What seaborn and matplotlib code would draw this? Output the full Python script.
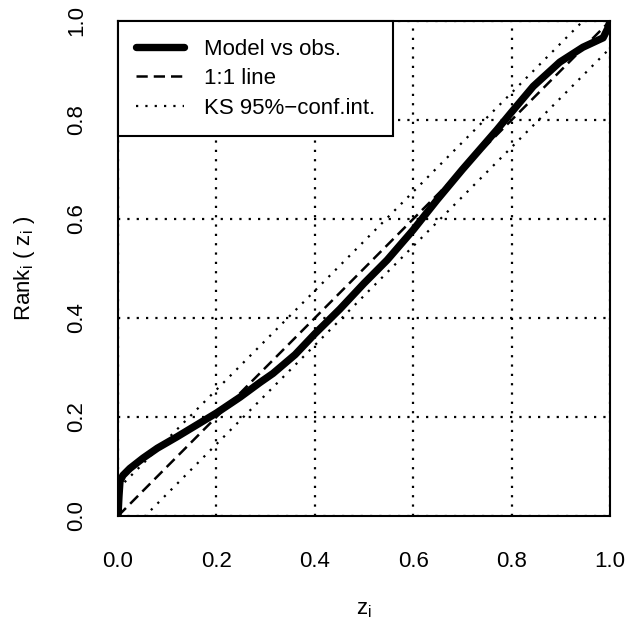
import numpy as np
import pandas as pd
import matplotlib
matplotlib.use("Agg")
import matplotlib.pyplot as plt
import seaborn as sns

# ---- data ----
z_model = [0.0, 0.002, 0.004, 0.01, 0.024, 0.051, 0.08, 0.12, 0.16, 0.20, 0.248,
           0.289, 0.315, 0.36, 0.40, 0.451, 0.50, 0.547, 0.60, 0.648, 0.70,
           0.77, 0.80, 0.844, 0.898, 0.945, 0.986, 0.996, 1.0]
rank_model = [0.0, 0.04, 0.07, 0.082, 0.096, 0.117, 0.137, 0.16, 0.184, 0.208, 0.24,
              0.27, 0.288, 0.326, 0.368, 0.418, 0.47, 0.517, 0.578, 0.638, 0.70,
              0.78, 0.816, 0.868, 0.917, 0.947, 0.966, 0.986, 1.0]
one_to_one = [0.0, 1.0]
ks_d = 0.055
ticks = [0.0, 0.2, 0.4, 0.6, 0.8, 1.0]
tick_labels = ["0.0", "0.2", "0.4", "0.6", "0.8", "1.0"]
legend_labels = ["Model vs obs.", "1:1 line", "KS 95%\u2212conf.int."]

sns.set_style("white")
plt.rcParams["font.family"] = ["Liberation Sans", "DejaVu Sans"]
plt.rcParams["mathtext.fontset"] = "custom"
plt.rcParams["mathtext.rm"] = "Liberation Sans"
plt.rcParams["mathtext.it"] = "Liberation Sans"
plt.rcParams["text.color"] = "black"
plt.rcParams["axes.labelcolor"] = "black"
plt.rcParams["xtick.color"] = "black"
plt.rcParams["ytick.color"] = "black"

DPI = 100
fig = plt.figure(figsize=(6.29, 6.21), dpi=DPI)
ax = fig.add_axes([118 / 629, 105 / 621, 492 / 629, 495 / 621])

dot = (0, (1, 3.2))
dash = (0, (4.5, 2.4))
lw_dot = 1.6
lw_dash = 1.8

df_model = pd.DataFrame({"z": z_model, "rank": rank_model})
df_11 = pd.DataFrame({"z": one_to_one, "rank": one_to_one})
df_up = pd.DataFrame({"z": one_to_one, "rank": [v + ks_d for v in one_to_one]})
df_lo = pd.DataFrame({"z": one_to_one, "rank": [v - ks_d for v in one_to_one]})

sns.lineplot(data=df_up, x="z", y="rank", ax=ax, color="black", lw=lw_dot,
             linestyle=dot, sort=False, zorder=2)
sns.lineplot(data=df_lo, x="z", y="rank", ax=ax, color="black", lw=lw_dot,
             linestyle=dot, sort=False, zorder=2)
sns.lineplot(data=df_11, x="z", y="rank", ax=ax, color="black", lw=lw_dash,
             linestyle=dash, sort=False, zorder=2)
sns.lineplot(data=df_model, x="z", y="rank", ax=ax, color="black", lw=5.3,
             sort=False, zorder=3, solid_capstyle="round", solid_joinstyle="round")

ax.set_xlim(0, 1)
ax.set_ylim(0, 1)
ax.set_xticks(ticks)
ax.set_yticks(ticks)
ax.set_xticklabels(tick_labels)
ax.set_yticklabels(tick_labels, rotation=90, va="center")
ax.tick_params(axis="both", direction="out", length=10, width=1.5,
               labelsize=16, colors="black", pad=15)
ax.tick_params(axis="y", pad=12)
for s in ax.spines.values():
    s.set_linewidth(1.5)
    s.set_color("black")

ax.grid(True, color="black", linestyle=dot, linewidth=lw_dot)
ax.set_axisbelow(True)

ax.set_xlabel(r"$\mathregular{z_i}$", fontsize=16, labelpad=20)
ax.set_ylabel(r"$\mathregular{Rank_i\ (\ z_i\ )}$", fontsize=16, labelpad=21)

from matplotlib.lines import Line2D
handles = [
    Line2D([], [], color="black", lw=5.3, solid_capstyle="round"),
    Line2D([], [], color="black", lw=lw_dash, linestyle=dash),
    Line2D([], [], color="black", lw=lw_dot, linestyle=dot),
]
leg = ax.legend(handles, legend_labels, loc="upper left", bbox_to_anchor=(0, 1),
                borderaxespad=0, fontsize=16, handlelength=2.16,
                handletextpad=0.9, borderpad=0.8, labelspacing=0.38,
                fancybox=False, framealpha=1, edgecolor="black")
leg.get_frame().set_linewidth(1.5)
leg.set_zorder(5)
for t in leg.get_texts():
    t.set_color("black")

fig.savefig("out.png", dpi=DPI)
